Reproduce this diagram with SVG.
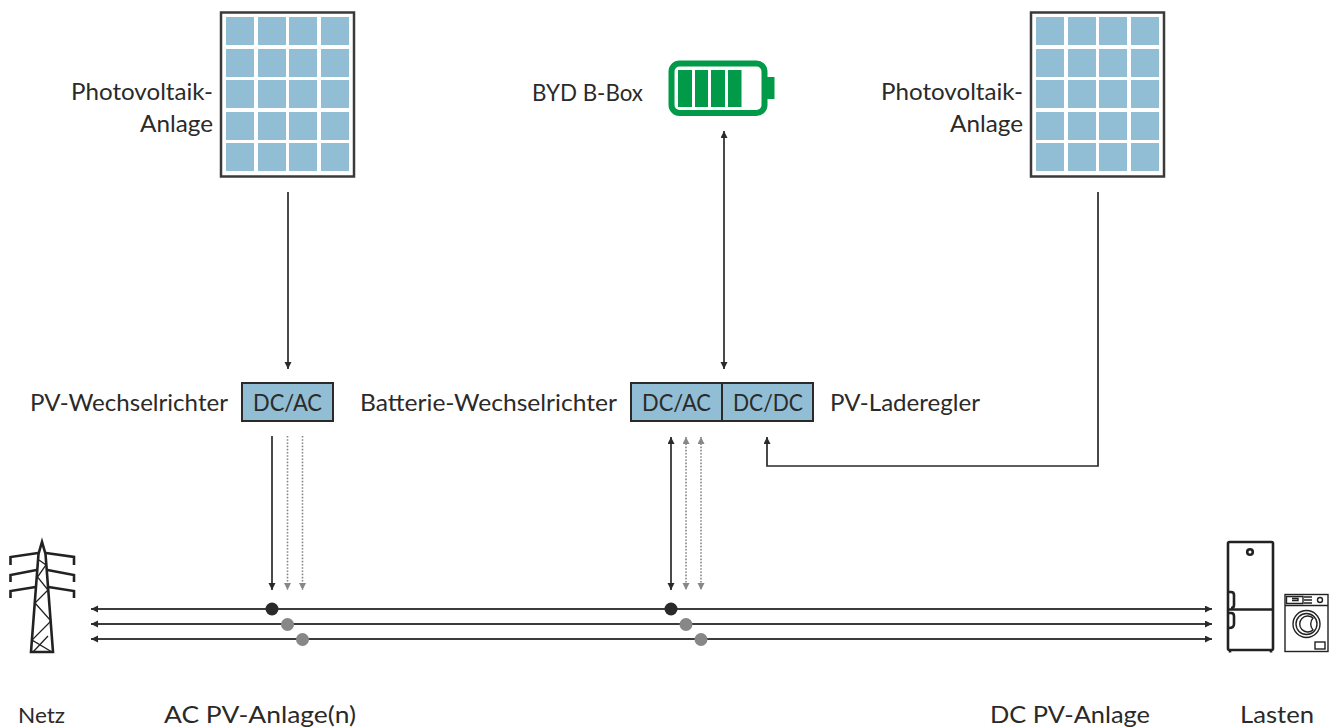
<svg xmlns="http://www.w3.org/2000/svg" width="1338" height="728" viewBox="0 0 1338 728">
<style>
text{font-family:"Lato","Liberation Sans",sans-serif;font-size:24px;fill:#2b2a29}
.cell{fill:#91bed4}
.frame{fill:#fff;stroke:#3a3a3a;stroke-width:2.5}
.box{fill:#91bed4;stroke:#2b2a29;stroke-width:2}
.ln{fill:none;stroke:#2b2a29;stroke-width:1.7}
.bus{fill:none;stroke:#3c3c3c;stroke-width:1.9}
.dot{fill:none;stroke:#878787;stroke-width:1.6;stroke-dasharray:1.6 1.6}
.ic{fill:none;stroke:#222;stroke-width:2.6}
.ict{fill:none;stroke:#222;stroke-width:1.3}
.wm{fill:none;stroke:#222;stroke-width:1.4}
</style>
<defs>
<marker id="a" markerUnits="userSpaceOnUse" markerWidth="8" markerHeight="8" refX="7" refY="3.500" orient="auto-start-reverse"><path d="M0 0L7 3.500L0 7z" fill="#2b2a29"/></marker>
<marker id="g" markerUnits="userSpaceOnUse" markerWidth="8" markerHeight="8" refX="7" refY="3.500" orient="auto-start-reverse"><path d="M0 0L7 3.500L0 7z" fill="#878787"/></marker>
<g id="panel">
<rect class="frame" x="221" y="12.500" width="133" height="164"/>
<g class="cell">
<rect x="226" y="17" width="28" height="28"/><rect x="258" y="17" width="28" height="28"/><rect x="289" y="17" width="28" height="28"/><rect x="321" y="17" width="28" height="28"/>
<rect x="226" y="49" width="28" height="28"/><rect x="258" y="49" width="28" height="28"/><rect x="289" y="49" width="28" height="28"/><rect x="321" y="49" width="28" height="28"/>
<rect x="226" y="80" width="28" height="28"/><rect x="258" y="80" width="28" height="28"/><rect x="289" y="80" width="28" height="28"/><rect x="321" y="80" width="28" height="28"/>
<rect x="226" y="112" width="28" height="28"/><rect x="258" y="112" width="28" height="28"/><rect x="289" y="112" width="28" height="28"/><rect x="321" y="112" width="28" height="28"/>
<rect x="226" y="143" width="28" height="28"/><rect x="258" y="143" width="28" height="28"/><rect x="289" y="143" width="28" height="28"/><rect x="321" y="143" width="28" height="28"/>
</g>
</g>
</defs>
<g id="connectors">
<path class="ln" d="M288 192V369" marker-end="url(#a)"/>
<path class="ln" d="M724 131V369" marker-start="url(#a)" marker-end="url(#a)"/>
<path class="ln" d="M1098 192V466H767V437" marker-end="url(#a)"/>
<path class="ln" d="M272 436V590" marker-end="url(#a)"/>
<path class="dot" d="M287.500 436V590" marker-end="url(#g)"/>
<path class="dot" d="M302.500 436V590" marker-end="url(#g)"/>
<path class="ln" d="M671 437V590" marker-start="url(#a)" marker-end="url(#a)"/>
<path class="dot" d="M686 437V590" marker-start="url(#g)" marker-end="url(#g)"/>
<path class="dot" d="M701 437V590" marker-start="url(#g)" marker-end="url(#g)"/>
<path class="bus" d="M91 609H1212" marker-start="url(#a)" marker-end="url(#a)"/>
<path class="bus" d="M91 624H1212" marker-start="url(#a)" marker-end="url(#a)"/>
<path class="bus" d="M91 639H1212" marker-start="url(#a)" marker-end="url(#a)"/>
<circle cx="272" cy="609" r="6.500" fill="#2b2a29"/>
<circle cx="287.500" cy="624.500" r="6.500" fill="#878787"/>
<circle cx="302.500" cy="639.500" r="6.500" fill="#878787"/>
<circle cx="671" cy="609" r="6.500" fill="#2b2a29"/>
<circle cx="686" cy="624.500" r="6.500" fill="#878787"/>
<circle cx="701" cy="639.500" r="6.500" fill="#878787"/>
</g>
<g id="pv-left">
<use href="#panel"/>
<text x="71" y="100" textLength="142" lengthAdjust="spacingAndGlyphs">Photovoltaik-</text>
<text x="140" y="132" textLength="73" lengthAdjust="spacingAndGlyphs">Anlage</text>
</g>
<g id="pv-right">
<use href="#panel" x="810"/>
<text x="881" y="100" textLength="142" lengthAdjust="spacingAndGlyphs">Photovoltaik-</text>
<text x="950" y="132" textLength="73" lengthAdjust="spacingAndGlyphs">Anlage</text>
</g>
<g id="battery">
<text x="532" y="101" textLength="111" lengthAdjust="spacingAndGlyphs">BYD B-Box</text>
<rect x="671.500" y="63.500" width="93" height="49.500" rx="8" fill="#fff" stroke="#009a49" stroke-width="6"/>
<g fill="#009a49"><rect x="678" y="70" width="14" height="37"/><rect x="695" y="70" width="13" height="37"/><rect x="711" y="70" width="14" height="37"/><rect x="728" y="70" width="13.500" height="37"/><rect x="767" y="77" width="7.500" height="22"/></g>
</g>
<g id="pv-inverter">
<text x="30" y="411" textLength="198" lengthAdjust="spacingAndGlyphs">PV-Wechselrichter</text>
<rect class="box" x="242" y="383" width="91" height="38"/>
<text x="253" y="411" textLength="69" lengthAdjust="spacingAndGlyphs">DC/AC</text>
</g>
<g id="battery-inverter">
<text x="360" y="411" textLength="257" lengthAdjust="spacingAndGlyphs">Batterie-Wechselrichter</text>
<rect class="box" x="631" y="383" width="91" height="38"/>
<text x="642" y="411" textLength="69" lengthAdjust="spacingAndGlyphs">DC/AC</text>
</g>
<g id="charge-controller">
<rect class="box" x="722" y="383" width="91" height="38"/>
<text x="733" y="411" textLength="70" lengthAdjust="spacingAndGlyphs">DC/DC</text>
<text x="830" y="411" textLength="150" lengthAdjust="spacingAndGlyphs">PV-Laderegler</text>
</g>
<g id="netz">
<path class="ic" d="M31 652L38.500 554L42 542L45.500 554L53 652ZM30 652H54"/>
<path class="ic" d="M38 553L10.500 557V565M36.500 570L10.500 575V582M35.500 587L10.500 591V598M46 553L74 557V565M47.500 570L74 575V582M48.500 587L74 591V598"/>
<path class="ict" d="M39 560L46 565L37.500 577L48 590L35 603L51 621L32 640L52 652M33 652L48 636"/>
<text x="18" y="723" textLength="47" lengthAdjust="spacingAndGlyphs" style="font-size:22px">Netz</text>
</g>
<g id="lasten">
<rect class="ic" x="1228" y="542" width="45" height="108" rx="1.500" stroke-width="3"/>
<path class="ic" d="M1228 609.500H1273" stroke-width="3.500"/>
<path class="ic" d="M1228.500 592H1231Q1234 592 1234 595V605Q1234 608 1231 608M1228.500 613H1231Q1234 613 1234 616V624Q1234 628 1229 628" stroke-width="1.800"/>
<path class="ic" d="M1230 650V652.500M1271 650V652.500" stroke-width="3.500"/>
<circle class="ic" cx="1250" cy="552" r="2.800" stroke-width="2.200"/>
<rect class="wm" x="1285" y="594.500" width="43" height="57" stroke-width="1.700"/>
<path class="wm" d="M1285 605.500H1328"/>
<path class="wm" d="M1286.500 596.500H1303V603.500H1286.500ZM1292 598.500H1298V600.500H1292"/>
<path class="wm" d="M1304 597H1312M1304 600H1312M1304 603H1312"/>
<circle class="wm" cx="1320" cy="600" r="2.500"/>
<circle class="wm" cx="1306.500" cy="624" r="13.500"/>
<circle class="wm" cx="1306.500" cy="624" r="10.500"/>
<path class="wm" d="M1313 618A8 8 0 1 0 1313 630A9 9 0 0 1 1313 618Z"/>
<rect class="wm" x="1315" y="642" width="10" height="7"/>
<text x="1240" y="723" textLength="74" lengthAdjust="spacingAndGlyphs">Lasten</text>
</g>
<text x="164" y="723" textLength="192" lengthAdjust="spacingAndGlyphs">AC PV-Anlage(n)</text>
<text x="990" y="723" textLength="160" lengthAdjust="spacingAndGlyphs">DC PV-Anlage</text>
</svg>
